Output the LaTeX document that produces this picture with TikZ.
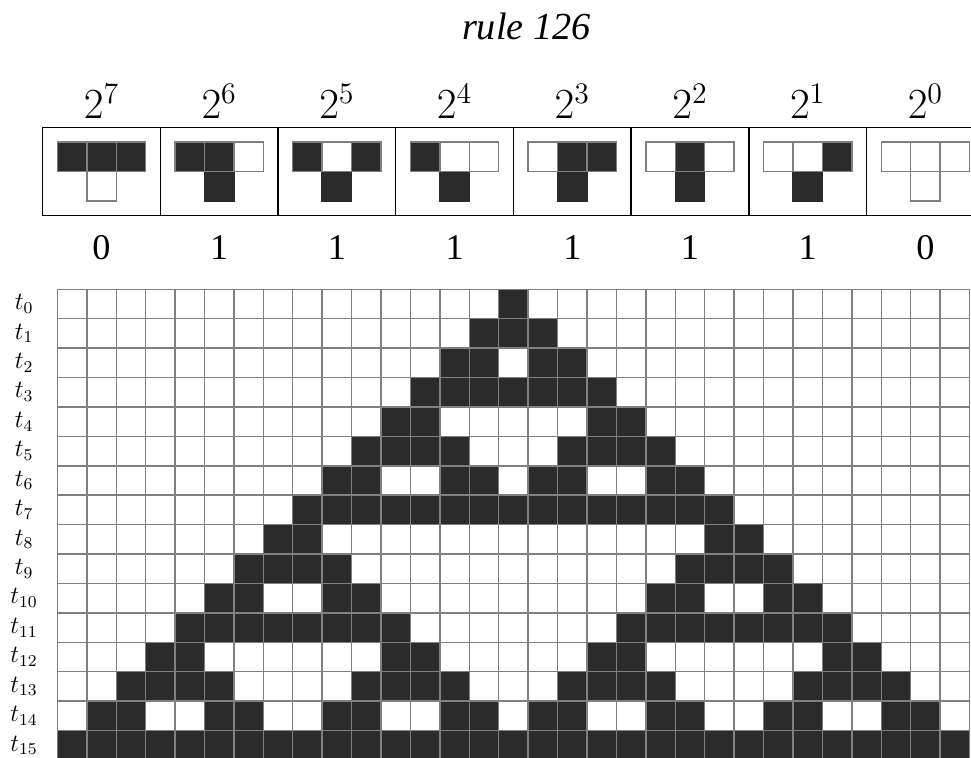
\documentclass[tikz,border=0pt]{standalone}
\usepackage{fontspec}
\newfontfamily\numfont{Liberation Serif}

\colorlet{cv0}{white}
\colorlet{cv1}{black!83}
\colorlet{cb0}{black!50}
\colorlet{cb1}{black!83}

\begin{document}
\begin{tikzpicture}
[
	x=0.5cm,y=0.5cm,
	cl/.style={draw=black!50,line width=0.7},
	rb/.style={draw=black,line width=0.7},
	big/.style={anchor=base,font=\fontsize{20.74}{24}\selectfont},
	num/.style={anchor=base,font=\fontsize{17.5}{20}\selectfont\numfont},
	tl/.style={font=\fontsize{12}{14}\selectfont}
]

\clip (-1.95,-15.93) rectangle (31.05,9.83);

\node[anchor=base,font=\fontsize{18.5}{20}\selectfont\numfont\itshape] (title) at (15.94,8.49) {rule 126};

% the eight neighbourhoods and what they give
\foreach \e/\l/\m/\r/\o [count=\i from 0] in {7/1/1/1/0,6/1/1/0/1,5/1/0/1/1,4/1/0/0/1,3/0/1/1/1,2/0/1/0/1,1/0/0/1/1,0/0/0/0/0}
{
	\draw[rb] (4*\i-0.5,2.5) rectangle (4*\i+3.5,5.5);
	\filldraw[cl,draw=cb\o,fill=cv\o] (4*\i+1,3) rectangle +(1,1);
	\filldraw[cl,fill=cv\l] (4*\i,4) rectangle +(1,1);
	\filldraw[cl,fill=cv\m] (4*\i+1,4) rectangle +(1,1);
	\filldraw[cl,fill=cv\r] (4*\i+2,4) rectangle +(1,1);
	\node[big] (e\i) at (4*\i+1.5,5.8) {$2^{\e}$};
	\node[num] (o\i) at (4*\i+1.5,1) {\o};
}

% black runs of each time step
\foreach \t/\runs in {0/{15/15},1/{14/16},2/{13/14,16/17},3/{12/18},
	4/{11/12,18/19},5/{10/13,17/20},6/{9/10,13/14,16/17,20/21},7/{8/22},
	8/{7/8,22/23},9/{6/9,21/24},10/{5/6,9/10,20/21,24/25},11/{4/11,19/26},
	12/{3/4,11/12,18/19,26/27},13/{2/5,10/13,17/20,25/28},
	14/{1/2,5/6,9/10,13/14,16/17,20/21,24/25,28/29},15/{0/30}}
{
	\foreach \a/\b in \runs
		\fill[cv1] (\a,-\t) rectangle (\b+1,-\t-1);
	\node[tl] (t\t) at (-1.13,-\t-0.5) {$t_{\t}$};
}

\draw[cl,step=0.5cm] (0,-16) grid (31,0);

\end{tikzpicture}
\end{document}
